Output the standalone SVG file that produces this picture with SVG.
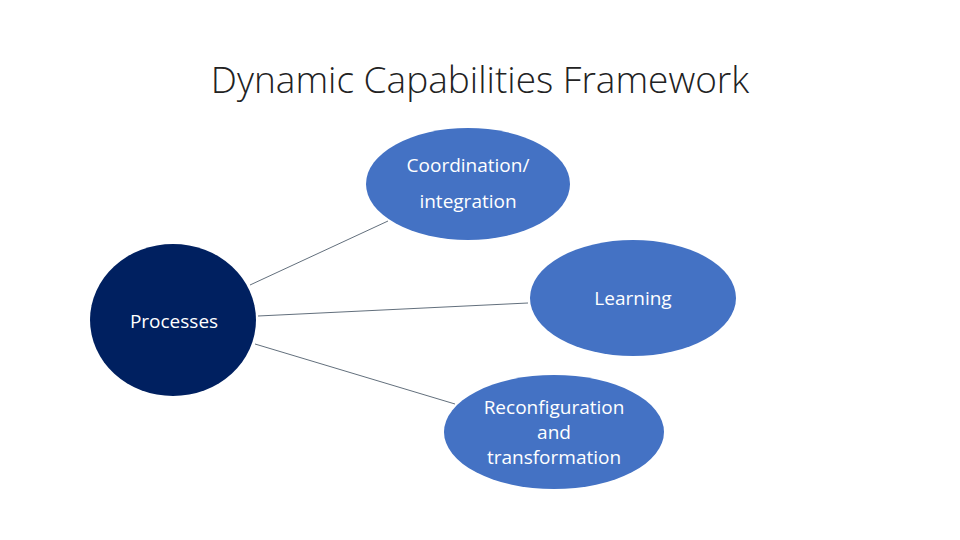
<svg xmlns="http://www.w3.org/2000/svg" width="960" height="540" viewBox="0 0 960 540">
<style>
.t{font-family:"Open Sans","Liberation Sans",sans-serif;fill:#fff;font-size:19px;text-anchor:middle}
.b{fill:#4472C4}
</style>
<rect width="960" height="540" fill="#fff"/>
<text x="480" y="93" font-family="'Open Sans','Liberation Sans',sans-serif" font-size="37" font-weight="300" text-anchor="middle" fill="#222">Dynamic Capabilities Framework</text>
<g id="connectors" stroke="#3a4a5a" stroke-width="0.8">
<line x1="250" y1="285" x2="388" y2="221"/>
<line x1="258" y1="316" x2="528" y2="303"/>
<line x1="255" y1="344" x2="455" y2="404"/>
</g>
<g id="processes"><ellipse cx="173" cy="320" rx="83" ry="76" fill="#002060"/><text class="t" x="174" y="328">Processes</text></g>
<g id="coordination"><ellipse class="b" cx="468" cy="184" rx="102" ry="56"/><text class="t" x="468" y="172">Coordination/</text><text class="t" x="468" y="208">integration</text></g>
<g id="learning"><ellipse class="b" cx="633" cy="298" rx="103" ry="58"/><text class="t" x="633" y="305">Learning</text></g>
<g id="reconfiguration"><ellipse class="b" cx="554" cy="432" rx="110" ry="57"/><text class="t" x="554" y="414">Reconfiguration</text><text class="t" x="554" y="439">and</text><text class="t" x="554" y="464">transformation</text></g>
</svg>
